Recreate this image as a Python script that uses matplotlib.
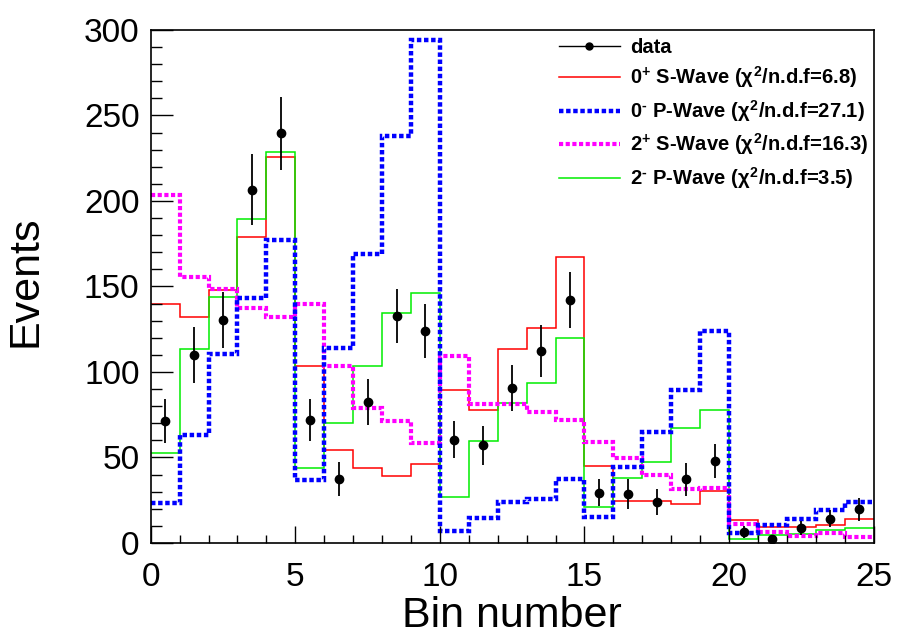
import matplotlib
matplotlib.use("Agg")
import matplotlib.pyplot as plt
from matplotlib.lines import Line2D
from matplotlib.ticker import MultipleLocator
import numpy as np

plt.rcParams["font.family"] = ["Liberation Sans", "DejaVu Sans"]
plt.rcParams["mathtext.fontset"] = "custom"
plt.rcParams["mathtext.rm"] = "Liberation Sans:bold"
plt.rcParams["mathtext.it"] = "Liberation Sans:bold"

# 25 bins of unit width
bin_edges = np.arange(0, 26)
bin_centers = np.arange(25) + 0.5

data_counts = [71.3, 109.7, 130.5, 206.7, 239.6, 71.9, 37.6, 82.6, 132.7, 124.2,
               60.4, 57.0, 90.7, 112.3, 142.0, 29.3, 28.5, 23.8, 37.2, 47.9,
               6.4, 2.3, 8.7, 14.2, 19.6]
data_errors = [13.0, 16.4, 16.4, 20.5, 21.3, 12.2, 10.0, 13.4, 15.8, 15.8,
               10.9, 11.4, 13.4, 15.3, 16.3, 7.9, 8.9, 7.7, 9.8, 10.1,
               3.5, 2.0, 4.0, 5.0, 6.5]

s_wave_0p = [140, 132, 148, 178.8, 226, 103.4, 54.3, 43.6, 39, 46,
             89.5, 77.6, 113.7, 125.7, 167.1, 45, 24.8, 24.8, 22.6, 30.1,
             13.2, 9.1, 9.1, 10.7, 14]
p_wave_0m = [23.2, 63.4, 110.3, 143, 177.2, 37, 114.3, 168.7, 238, 294,
             6.9, 14.3, 24.2, 25.7, 37.2, 15.2, 44.4, 64.8, 89.7, 124.2,
             5.8, 10.7, 14, 19.4, 23.9]
s_wave_2p = [203.6, 155.8, 148.5, 137.6, 132, 140, 103.4, 79.2, 71.3, 58.4,
             109.3, 81.2, 81.2, 76.6, 71.7, 58.8, 49.9, 39.6, 31.7, 32.3,
             11, 6.4, 3.9, 5.8, 3.3]
p_wave_2m = [52.5, 113.7, 143.6, 189.5, 228.5, 43.6, 70.3, 103.4, 134.7, 146.1,
             27.1, 59.4, 81.6, 93.5, 119.8, 21.2, 38, 47.5, 67.3, 77.6,
             2.3, 4.7, 5.2, 7.8, 8.5]

labels = [
    "data",
    r"0$^{+}$ S-Wave ($\chi^{2}$/n.d.f=6.8)",
    r"0$^{\text{-}}$ P-Wave ($\chi^{2}$/n.d.f=27.1)",
    r"2$^{+}$ S-Wave ($\chi^{2}$/n.d.f=16.3)",
    r"2$^{\text{-}}$ P-Wave ($\chi^{2}$/n.d.f=3.5)",
]

fig = plt.figure(figsize=(8.97, 6.38), dpi=100)
ax = fig.add_axes([0.168, 0.149, 0.806, 0.804])

dots = (0, (1.0, 0.6))
ax.stairs(s_wave_0p, bin_edges, baseline=None, color="#ff0000", lw=1.1)
ax.stairs(p_wave_2m, bin_edges, baseline=None, color="#00ee00", lw=1.1)
ax.stairs(s_wave_2p, bin_edges, baseline=None, color="#ff00ff", lw=3.0, linestyle=dots)
ax.stairs(p_wave_0m, bin_edges, baseline=None, color="#0000ff", lw=3.2, linestyle=dots)
ax.errorbar(bin_centers, data_counts, yerr=data_errors, fmt="o", color="black",
            ms=6, elinewidth=1.3, capsize=0, zorder=5)

ax.set_xlim(0, 25)
ax.set_ylim(0, 300)
ax.xaxis.set_major_locator(MultipleLocator(5))
ax.xaxis.set_minor_locator(MultipleLocator(1))
ax.yaxis.set_major_locator(MultipleLocator(50))
ax.yaxis.set_minor_locator(MultipleLocator(10))
ax.tick_params(axis="both", which="both", direction="in", top=False, right=False,
               labelsize=24, width=1.0)
ax.tick_params(axis="y", which="major", length=16, pad=8)
ax.tick_params(axis="y", which="minor", length=8)
ax.tick_params(axis="x", which="major", length=12, pad=14)
ax.tick_params(axis="x", which="minor", length=6)
for sp in ax.spines.values():
    sp.set_linewidth(1.2)

ax.set_xlabel("Bin number", fontsize=31, labelpad=2)
ax.set_ylabel("Events", fontsize=31)
ax.yaxis.set_label_coords(-0.145, 0.51)

data_handle = Line2D([], [], color="black", lw=1.0, marker="o", ms=5)
handles = [data_handle,
           Line2D([], [], color="#ff0000", lw=1.1),
           Line2D([], [], color="#0000ff", lw=3.2, linestyle=dots),
           Line2D([], [], color="#ff00ff", lw=3.0, linestyle=dots),
           Line2D([], [], color="#00ee00", lw=1.1)]
ax.legend(handles, labels, loc="upper left", bbox_to_anchor=(0.565, 0.985),
          frameon=False, prop={"size": 14.5, "weight": "bold"},
          handlelength=3.0, handletextpad=0.5, labelspacing=0.38,
          borderpad=0.0, borderaxespad=0.0)

fig.savefig("out.png", dpi=100)
